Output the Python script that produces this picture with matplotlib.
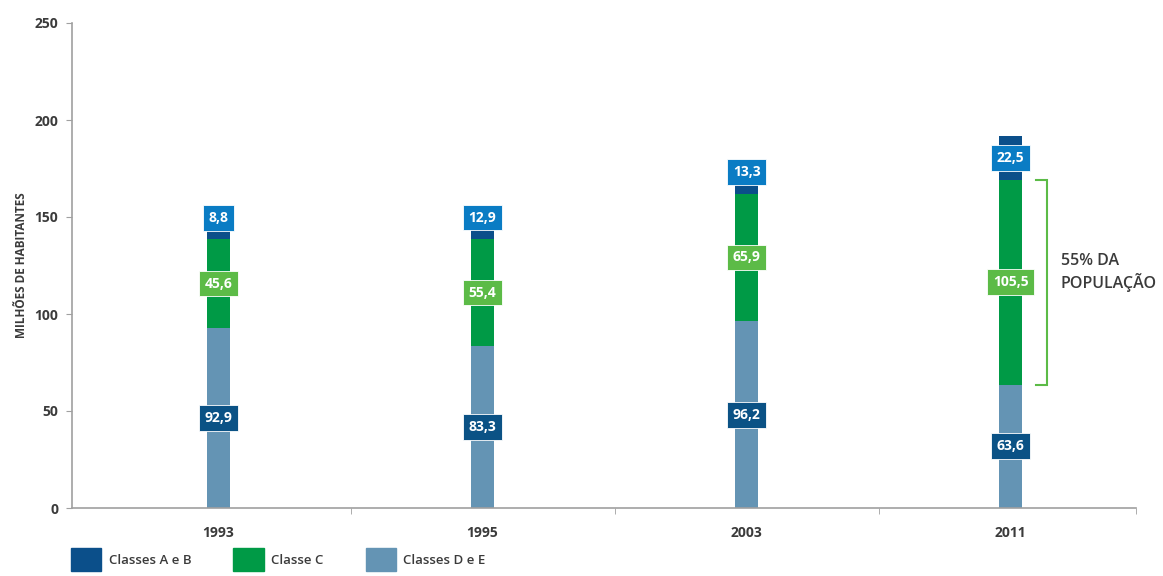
import numpy as np
import matplotlib.pyplot as plt
import matplotlib as mpl
import matplotlib.patches as mpatches

mpl.rcParams['font.family'] = ['Open Sans', 'DejaVu Sans']

# data (milhões de habitantes)
years = ['1993', '1995', '2003', '2011']
classes_de = [92.9, 83.3, 96.2, 63.6]
classe_c = [45.6, 55.4, 65.9, 105.5]
classes_ab = [8.8, 12.9, 13.3, 22.5]
series_names = ['Classes A e B', 'Classe C', 'Classes D e E']
bracket_text = '55% DA\nPOPULAÇÃO'

# colours
col_ab = '#0b4f8a'
col_c = '#009a46'
col_de = '#6494b4'
box_ab = '#0a7cc4'
box_c = '#5cbb47'
box_de = '#0b5285'
txt_col = '#3b3b3b'

fig = plt.figure(figsize=(11.63, 5.76), dpi=100)
ax = fig.add_axes([72 / 1163, 1 - 508 / 576, (1136 - 72) / 1163, (508 - 23) / 576])

x = np.arange(len(years))
de = np.array(classes_de)
c = np.array(classe_c)
ab = np.array(classes_ab)
w = 0.088

ax.bar(x, de, width=w, color=col_de, zorder=2)
ax.bar(x, c, width=w, bottom=de, color=col_c, zorder=2)
ax.bar(x, ab, width=w, bottom=de + c, color=col_ab, zorder=2)


def label(xi, yi, val, fc):
    ax.text(xi, yi, ('%.1f' % val).replace('.', ','), ha='center', va='center',
            color='white', fontsize=10, fontweight='bold', zorder=4,
            bbox=dict(boxstyle='square,pad=0.42', fc=fc, ec='white', lw=0.6))


for i in range(len(years)):
    label(x[i], de[i] / 2, de[i], box_de)
    label(x[i], de[i] + c[i] / 2, c[i], box_c)
    label(x[i], de[i] + c[i] + max(ab[i] / 2, 11), ab[i], box_ab)

# bracket on the last year
xb = x[-1]
lo = de[-1]
hi = de[-1] + c[-1]
ax.plot([xb + 0.095, xb + 0.138, xb + 0.138, xb + 0.095], [hi, hi, lo, lo],
        color=box_c, lw=1.5, zorder=3, solid_joinstyle='miter')
ax.text(xb + 0.19, (lo + hi) / 2 + 5, bracket_text, ha='left', va='center',
        fontsize=11.5, fontweight='semibold', color=txt_col, linespacing=1.3)

# axes
ax.set_xlim(-0.555, 3.475)
ax.set_ylim(0, 250)
ax.set_yticks(np.arange(0, 251, 50))
ax.set_xticks(x)
ax.set_xticklabels(years)
ax.set_xticks([0.5, 1.5, 2.5, 3.475], minor=True)
ax.tick_params(axis='x', which='major', length=0, pad=13, labelsize=10, labelcolor=txt_col)
ax.tick_params(axis='x', which='minor', length=4, color='#a0a0a0', direction='out')
ax.tick_params(axis='y', length=4, color='#a0a0a0', labelsize=10, labelcolor=txt_col, pad=6)
for t in ax.get_xticklabels() + ax.get_yticklabels():
    t.set_fontweight('bold')
for s in ['top', 'right']:
    ax.spines[s].set_visible(False)
for s in ['left', 'bottom']:
    ax.spines[s].set_color('#a0a0a0')
    ax.spines[s].set_linewidth(1.2)

ax.set_ylabel('MILHÕES DE HABITANTES', fontsize=8.5, fontweight='bold', color=txt_col)
ax.yaxis.set_label_coords(-44 / 1064, 0.5)

# legend
handles = [mpatches.Patch(color=col_ab, label=series_names[0]),
           mpatches.Patch(color=col_c, label=series_names[1]),
           mpatches.Patch(color=col_de, label=series_names[2])]
leg = fig.legend(handles=handles, loc='upper left', bbox_to_anchor=(71 / 1163, 1 - 548 / 576),
                 ncol=3, frameon=False, fontsize=9.5, handlelength=2.3, handleheight=2.3,
                 handletextpad=0.55, columnspacing=3.2, borderpad=0, borderaxespad=0)
for t in leg.get_texts():
    t.set_color(txt_col)
    t.set_fontweight('semibold')

fig.savefig('out.png', dpi=100)
